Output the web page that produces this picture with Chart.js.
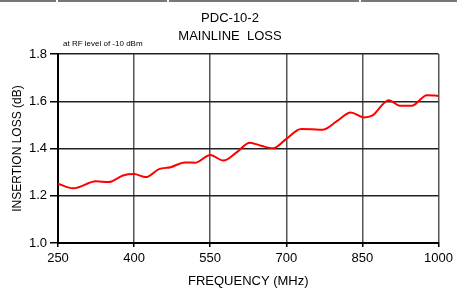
<!DOCTYPE html>
<html>
<head>
<meta charset="utf-8">
<script src="https://cdn.jsdelivr.net/npm/chart.js@4.4.0/dist/chart.umd.min.js"></script>
<style>
  html, body { margin: 0; padding: 0; background: #fff; }
  #wrap { position: relative; width: 457px; height: 293px; }
  .topbar { position: absolute; top: 0; height: 2px; background: #777; }
</style>
</head>
<body>
<div id="wrap">
  <div class="topbar" style="left:0;width:56px"></div>
  <div class="topbar" style="left:58px;width:109px"></div>
  <div class="topbar" style="left:169px;width:190px"></div>
  <div class="topbar" style="left:361px;width:96px"></div>
  <canvas id="chart" width="457" height="293"></canvas>
</div>
<script>
// 주파수 (MHz) 와 삽입 손실 (dB)
const freqs = [250, 280, 325, 350, 378, 400, 423, 449, 472, 500, 521, 550, 576, 602, 628, 650, 674, 700, 729, 750, 772, 801, 827, 853, 869, 902, 924, 947, 977, 1000];
const loss = [1.251, 1.232, 1.261, 1.258, 1.286, 1.292, 1.279, 1.313, 1.321, 1.341, 1.340, 1.373, 1.349, 1.384, 1.425, 1.412, 1.401, 1.441, 1.483, 1.482, 1.480, 1.518, 1.553, 1.532, 1.539, 1.605, 1.581, 1.581, 1.626, 1.623];
const titleLines = ['PDC-10-2', 'MAINLINE  LOSS'];
const noteText = 'at RF level of -10 dBm';

const font = 'Arial, "Liberation Sans", sans-serif';

// 측정 조건 메모
const notePlugin = {
    id: 'note',
    afterDraw(chart) {
        const ctx = chart.ctx;
        ctx.save();
        ctx.font = '8px ' + font;
        ctx.fillStyle = '#000';
        ctx.textBaseline = 'alphabetic';
        ctx.fillText(noteText, chart.chartArea.left + 5, chart.chartArea.top - 8);
        ctx.restore();
    }
};

const ctx = document.getElementById('chart').getContext('2d');
new Chart(ctx, {
    type: 'line',
    data: {
        datasets: [{
            data: freqs.map((f, i) => ({ x: f, y: loss[i] })),
            borderColor: '#ff0000',
            borderWidth: 2,
            pointRadius: 0,
            cubicInterpolationMode: 'monotone',
            fill: false
        }]
    },
    options: {
        responsive: false,
        animation: false,
        layout: { padding: { left: 0, right: -3, top: 0, bottom: 0 } },
        plugins: {
            legend: { display: false },
            tooltip: { enabled: false },
            title: {
                display: true,
                text: titleLines,
                color: '#000',
                font: { family: font, size: 13, weight: 'normal', lineHeight: 1.35 },
                padding: { top: 10, bottom: 9 }
            }
        },
        scales: {
            x: {
                type: 'linear',
                min: 250,
                max: 1000,
                afterFit(scale) { scale.height = 50; },
                ticks: {
                    stepSize: 150,
                    color: '#000',
                    font: { family: font, size: 13 },
                    padding: 4,
                    callback: v => String(v)
                },
                grid: { color: '#555', lineWidth: 1.5, tickLength: 4, tickColor: '#000' },
                border: { color: '#000', width: 2 },
                title: {
                    display: true,
                    text: 'FREQUENCY (MHz)',
                    color: '#000',
                    font: { family: font, size: 13 },
                    padding: { top: 0 }
                }
            },
            y: {
                min: 1.0,
                max: 1.8,
                afterFit(scale) { scale.width = 58; },
                ticks: {
                    stepSize: 0.2,
                    color: '#000',
                    font: { family: font, size: 13 },
                    padding: 3,
                    callback: v => v.toFixed(1)
                },
                grid: { color: '#222', lineWidth: 1.5, tickLength: 8, tickColor: '#000' },
                border: { color: '#000', width: 2 },
                title: {
                    display: true,
                    text: 'INSERTION LOSS (dB)',
                    color: '#000',
                    font: { family: font, size: 12 },
                    padding: { top: 10, bottom: 2 }
                }
            }
        }
    },
    plugins: [notePlugin]
});
</script>
</body>
</html>
